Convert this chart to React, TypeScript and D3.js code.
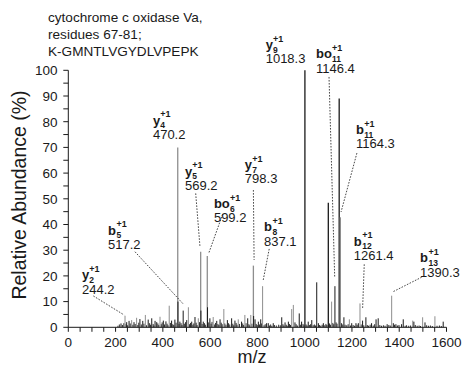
import React from "react";
import * as d3 from "d3";

// title lines
const titleLines = ["cytochrome c oxidase Va,", "residues 67-81;", "K-GMNTLVGYDLVPEPK"];

// main peaks: [m/z, relative abundance, tone] (g = grey trace, k = black trace)
const peaks: [number, number, string][] = [
  [223, 1.5, "k"], [240, 4.5, "g"], [247, 2, "k"], [257, 2.5, "k"], [268, 2.8, "g"], [278, 2, "k"],
  [289, 3.7, "g"], [303, 3.2, "k"], [315, 2.5, "k"], [326, 4.8, "g"], [338, 3, "k"], [353, 3.5, "k"],
  [367, 2.5, "k"], [374, 2, "k"], [388, 4.1, "g"], [402, 2.6, "k"], [413, 2.3, "k"], [427, 8.4, "g"],
  [437, 2.6, "k"], [451, 3, "k"], [463, 70, "g"], [464, 10, "k"], [472, 2.2, "k"], [486, 6.5, "k"],
  [501, 2.8, "k"], [508, 7.8, "g"], [522, 2.2, "k"], [536, 4, "k"], [550, 3.5, "g"], [560, 29.4, "g"],
  [561, 6.5, "k"], [571, 2.2, "k"], [588, 27.7, "g"], [589, 7.8, "k"], [599, 3.5, "k"], [613, 4, "g"],
  [628, 2.5, "k"], [642, 3.1, "k"], [658, 7.1, "g"], [673, 2.8, "k"], [691, 3.5, "k"], [705, 2.6, "k"],
  [719, 3.1, "g"], [733, 2.2, "k"], [747, 4.8, "g"], [759, 3.5, "k"], [772, 4.8, "g"], [783, 24, "g"],
  [784, 4.4, "k"], [790, 3.1, "k"], [804, 2.2, "k"], [814, 3.1, "k"], [822, 16, "g"], [839, 1.6, "k"],
  [846, 1.6, "k"], [867, 1.6, "k"], [903, 3.9, "k"], [917, 1.9, "k"], [931, 2.2, "k"], [945, 7.1, "g"],
  [952, 8.7, "g"], [959, 1.9, "k"], [977, 5.4, "k"], [987, 2.2, "k"], [1001, 100, "k"], [1015, 2.2, "k"],
  [1030, 2.8, "k"], [1051, 17.5, "k"], [1058, 1.6, "k"], [1079, 1.6, "k"], [1100, 48.5, "k"],
  [1114, 10, "g"], [1128, 16, "k"], [1146, 89, "k"], [1151, 42.8, "g"], [1166, 3.9, "k"],
  [1189, 3.1, "g"], [1199, 1.6, "k"], [1217, 1.6, "k"], [1227, 1.6, "k"], [1234, 9.3, "g"],
  [1245, 2.6, "k"], [1259, 3.9, "k"], [1283, 1.6, "k"], [1302, 3.1, "k"], [1311, 3.5, "k"],
  [1349, 1.2, "k"], [1368, 12.3, "g"], [1375, 1.6, "k"], [1386, 1.2, "k"], [1410, 1.2, "k"],
  [1417, 3.1, "k"], [1457, 2.6, "g"], [1462, 2.2, "k"], [1499, 3.9, "g"], [1509, 1.9, "k"],
  [1551, 4.3, "g"], [1586, 2.2, "k"],
];

// low-level baseline noise: [m/z, relative abundance]
const noise: [number, number][] = [
  [210, 0.6], [216, 1.1], [229, 0.9], [235, 1.6], [244, 1.2], [251, 0.8], [262, 1.5], [273, 1.0],
  [283, 1.3], [294, 0.9], [298, 1.8], [309, 1.1], [320, 1.4], [331, 0.8], [344, 1.6], [348, 1.0],
  [359, 1.3], [362, 0.7], [379, 1.5], [383, 0.9], [393, 1.2], [397, 1.9], [407, 1.1], [418, 1.4],
  [422, 0.8], [432, 1.7], [442, 1.2], [446, 0.9], [456, 1.8], [468, 1.3], [477, 1.6], [481, 0.9],
  [491, 1.4], [496, 2.0], [513, 1.2], [517, 1.7], [527, 1.0], [531, 1.5], [541, 1.8], [545, 0.9],
  [555, 2.0], [566, 1.3], [576, 1.6], [581, 1.0], [594, 1.9], [604, 1.4], [608, 2.1], [618, 1.1],
  [623, 1.7], [633, 1.3], [637, 0.9], [647, 1.8], [651, 1.2], [662, 1.5], [667, 1.0], [678, 1.6],
  [683, 1.1], [696, 1.4], [700, 0.8], [710, 1.7], [714, 1.0], [724, 1.3], [738, 1.5], [742, 0.9],
  [752, 1.6], [764, 1.2], [768, 0.8], [777, 1.4], [795, 1.3], [799, 0.9], [809, 1.1], [818, 1.5],
  [828, 0.8], [833, 1.2], [851, 0.7], [856, 1.1], [861, 0.6], [872, 0.9], [880, 0.7], [890, 1.0],
  [897, 0.8], [908, 1.2], [912, 0.7], [922, 1.0], [926, 0.6], [936, 1.3], [940, 0.9], [964, 1.2],
  [969, 0.7], [982, 1.0], [993, 1.3], [997, 0.8], [1006, 1.1], [1010, 0.7], [1020, 0.9], [1025, 1.2],
  [1036, 0.8], [1041, 1.1], [1046, 0.7], [1063, 0.9], [1068, 0.6], [1074, 1.0], [1085, 0.8],
  [1090, 1.3], [1094, 0.9], [1105, 1.5], [1109, 1.0], [1119, 1.7], [1123, 1.2], [1133, 1.9],
  [1137, 1.4], [1156, 1.6], [1161, 1.1], [1171, 1.0], [1178, 0.8], [1184, 1.2], [1194, 0.7],
  [1205, 0.9], [1211, 0.6], [1222, 1.0], [1239, 1.1], [1250, 0.8], [1265, 0.9], [1270, 0.6],
  [1277, 1.0], [1290, 0.7], [1296, 1.2], [1318, 0.9], [1325, 0.6], [1333, 0.8], [1340, 0.6],
  [1356, 0.9], [1362, 0.7], [1380, 1.0], [1393, 0.7], [1399, 0.9], [1425, 0.6], [1431, 0.8],
  [1440, 0.6], [1448, 0.7], [1468, 0.9], [1476, 0.6], [1484, 0.7], [1490, 0.5], [1516, 0.8],
  [1524, 0.6], [1532, 0.7], [1540, 0.5], [1560, 0.6], [1570, 0.7], [1578, 0.5],
];

// fragment annotations. label = [m/z, abundance] of the value text baseline,
// line = leader from label to peak ([m/z, ab, m/z, ab]) or null
type Ann = { ion: string; sub: string; value: string; label: [number, number]; line: number[] | null };
const annotations: Ann[] = [
  { ion: "y", sub: "2", value: "244.2", label: [58, 13], line: [106, 12.2, 236, 4.8] },
  { ion: "b", sub: "5", value: "517.2", label: [168, 30.5], line: [282, 29.4, 488, 8.9] },
  { ion: "y", sub: "4", value: "470.2", label: [358, 73.3], line: null },
  { ion: "y", sub: "5", value: "569.2", label: [494, 53.4], line: [539, 52.1, 557, 31.4] },
  { ion: "bo", sub: "6", value: "599.2", label: [616, 40.8], line: [653, 44, 594, 28.8] },
  { ion: "y", sub: "7", value: "798.3", label: [747, 56], line: [783, 53.4, 786, 26.2] },
  { ion: "b", sub: "8", value: "837.1", label: [828, 31.8], line: [850, 30.5, 824, 18.1] },
  { ion: "y", sub: "9", value: "1018.3", label: [835, 102.7], line: null },
  { ion: "bo", sub: "11", value: "1146.4", label: [1048, 99], line: [1103, 97.4, 1127, 19.6] },
  { ion: "b", sub: "11", value: "1164.3", label: [1217, 69.6], line: [1221, 67.8, 1154, 44.9] },
  { ion: "b", sub: "12", value: "1261.4", label: [1208, 26.2], line: [1252, 24.5, 1245, 7] },
  { ion: "b", sub: "13", value: "1390.3", label: [1488, 19.7], line: [1495, 19.5, 1375, 13.9] },
];

const ionWidth: Record<string, number> = { y: 7.3, b: 8.4, bo: 16 };

const W = 464;
const H = 368;
const FONT = "'Liberation Sans', Arial, sans-serif";
const INK = "#1a1a1a";
const GREY = "#8e8e8e";

const App = () => {
  const x = d3.scaleLinear().domain([0, 1600]).range([68.3, 446.5]);
  const y = d3.scaleLinear().domain([0, 100]).range([327.3, 70.3]);
  const xTicks = d3.range(0, 1601, 50);
  const yTicks = d3.range(0, 101, 5);

  return (
    <svg width={W} height={H} style={{ position: "absolute", left: 0, top: 0 }} fontFamily={FONT}>
      <rect width={W} height={H} fill="white" />

      {/* title */}
      {titleLines.map((t, i) => (
        <text key={i} x={48} y={[22, 38.5, 55.5][i]} fontSize={13.6} fill={INK}>
          {t}
        </text>
      ))}

      {/* noise forest */}
      <g stroke={INK} strokeWidth={0.9}>
        {noise.map(([mz, v], i) => (
          <line key={i} x1={x(mz)} x2={x(mz)} y1={y(0)} y2={y(v)} />
        ))}
      </g>

      {/* peaks */}
      <g>
        {peaks.map(([mz, v, tone], i) => (
          <line
            key={i}
            x1={x(mz)}
            x2={x(mz)}
            y1={y(0)}
            y2={y(v)}
            stroke={tone === "g" ? GREY : INK}
            strokeWidth={v > 20 ? 1.3 : 1}
          />
        ))}
      </g>

      {/* leader lines */}
      <g stroke="#333" strokeWidth={0.9} strokeDasharray="1.6,1.4" fill="none">
        {annotations
          .filter((a) => a.line)
          .map((a, i) => {
            const l = a.line as number[];
            return <line key={i} x1={x(l[0])} y1={y(l[1])} x2={x(l[2])} y2={y(l[3])} />;
          })}
      </g>

      {/* labels */}
      {annotations.map((a, i) => {
        const lx = x(a.label[0]);
        const vb = y(a.label[1]);
        const w = ionWidth[a.ion];
        return (
          <g key={i} fill={INK}>
            <text x={lx} y={vb - 14.4} fontSize={13} fontWeight="bold">
              {a.ion}
            </text>
            <text x={lx + w} y={vb - 21.8} fontSize={9} fontWeight="bold">
              +1
            </text>
            <text x={lx + w} y={vb - 10.6} fontSize={8.5} fontWeight="bold">
              {a.sub}
            </text>
            <text x={lx} y={vb} fontSize={13}>
              {a.value}
            </text>
          </g>
        );
      })}

      {/* y axis */}
      <g stroke={INK} strokeWidth={1}>
        <line x1={x(0)} x2={x(0)} y1={y(0)} y2={y(100)} />
        {yTicks.map((t) => (
          <line key={t} x1={x(0) - 5} x2={x(0)} y1={y(t)} y2={y(t)} />
        ))}
      </g>
      {yTicks
        .filter((t) => t % 10 === 0)
        .map((t) => (
          <text key={t} x={57.5} y={y(t)} dy="0.36em" textAnchor="end" fontSize={13.5} fill={INK}>
            {t}
          </text>
        ))}

      {/* x axis */}
      <g stroke={INK} strokeWidth={1}>
        <line x1={x(0)} x2={x(1600)} y1={y(0)} y2={y(0)} />
        {xTicks.map((t) => (
          <line key={t} x1={x(t)} x2={x(t)} y1={y(0)} y2={y(0) + 4.5} />
        ))}
      </g>
      {xTicks
        .filter((t) => t % 200 === 0)
        .map((t) => (
          <text key={t} x={x(t)} y={346.7} textAnchor="middle" fontSize={13.5} fill={INK}>
            {t}
          </text>
        ))}

      {/* axis titles */}
      <text x={252} y={363} textAnchor="middle" fontSize={18} fill={INK}>
        m/z
      </text>
      <text
        transform={`translate(25.5,195) rotate(-90)`}
        textAnchor="middle"
        fontSize={19.5}
        fill={INK}
      >
        Relative Abundance (%)
      </text>
    </svg>
  );
};

export default App;
